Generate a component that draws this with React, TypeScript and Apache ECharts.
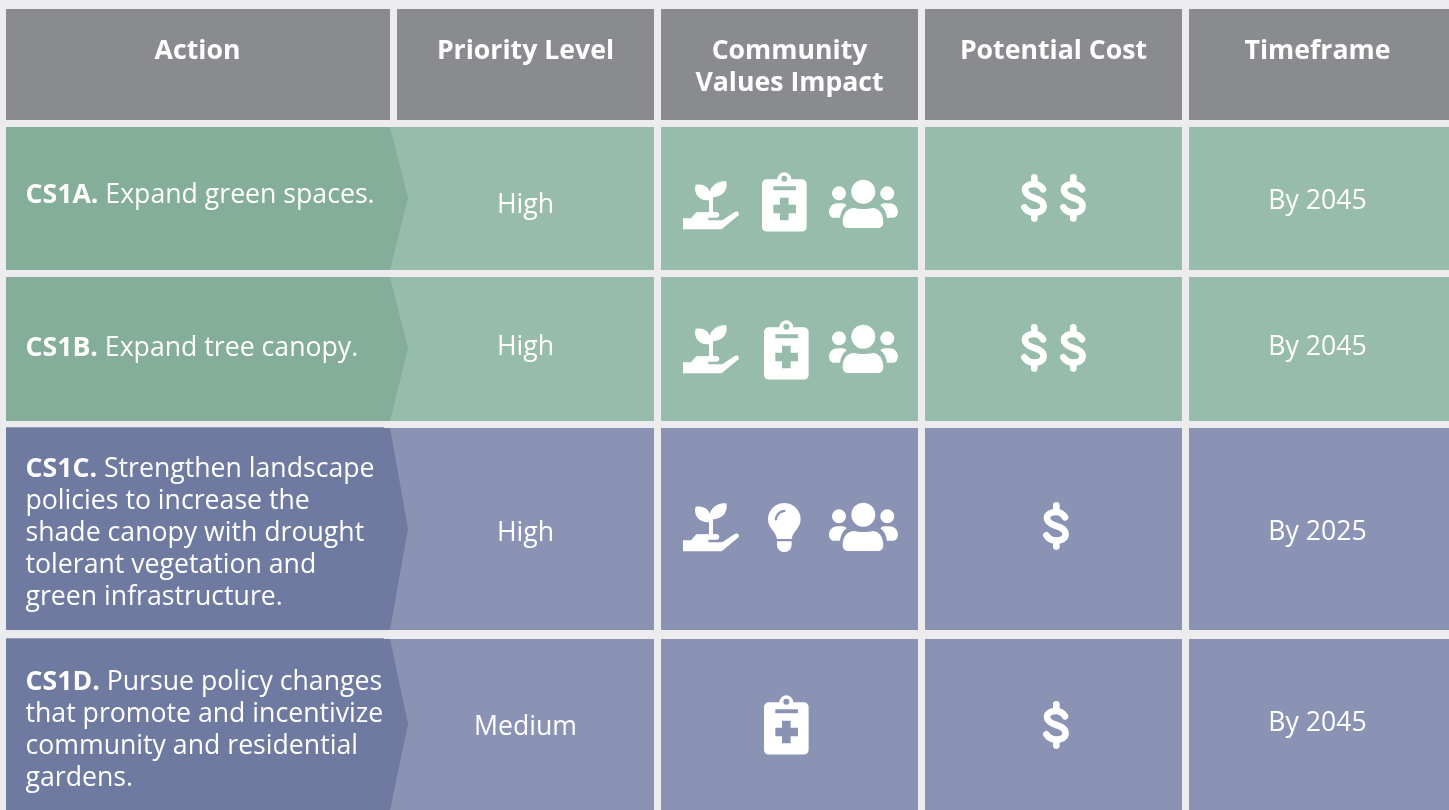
import React, { useEffect, useRef } from "react";
import * as echarts from "echarts";

const headers = ["Action", "Priority Level", "Community\nValues Impact", "Potential Cost", "Timeframe"];
const codes = ["CS1A.", "CS1B.", "CS1C.", "CS1D."];
const actionLines = [
  ["Expand green spaces."],
  ["Expand tree canopy."],
  ["Strengthen landscape", "policies to increase the", "shade canopy with drought", "tolerant vegetation and", "green infrastructure."],
  ["Pursue policy changes", "that promote and incentivize", "community and residential", "gardens."],
];
const priorities = ["High", "High", "High", "Medium"];
const timeframes = ["By 2045", "By 2045", "By 2025", "By 2045"];
const impacts = [
  ["hand", "clip", "users"],
  ["hand", "clip", "users"],
  ["hand", "bulb", "users"],
  ["clip"],
];
const costs = [2, 2, 1, 1];

// layout
const BG = "#ececee";
const HEAD = "#8a8b8e";
const colX: [number, number][] = [[6, 390], [397, 654], [661, 918], [925, 1182], [1189, 1449]];
const headX = [197.5, 525.5, 789.5, 1053.5, 1317.5];
const rowY: [number, number][] = [[127, 270], [277, 421], [428, 630], [639, 810]];
const rowDark = ["#85ae9a", "#85ae9a", "#6e7aa0", "#6e7aa0"];
const rowLight = ["#98bcab", "#98bcab", "#8a93b3", "#8a93b3"];
const actionY = [192, 345, 466, 679];
const priorityY = [202, 344, 530, 724];
const timeY = [198, 344, 529, 720];
const headY = 48;
const iconTop: Record<string, number[]> = {
  hand: [181, 325, 503, 0],
  clip: [172, 320, 0, 695],
  users: [180, 325, 503, 0],
  bulb: [0, 0, 503, 0],
};
const iconX: Record<string, number[]> = {
  hand: [683, 683, 683, 683],
  clip: [762, 764, 764, 764],
  users: [829, 829, 829, 829],
  bulb: [768, 768, 768, 768],
};
const dollarY = [174, 324, 502, 701];
const FONT = '"Open Sans"';
const FS = 26.67;

const PATHS: Record<string, string> = {
  clip: "M0,36 A14,14 0 0 1 14,22 L46,22 A21,21 0 1 1 88,22 L120,22 A14,14 0 0 1 134,36 L134,165 A14,14 0 0 1 120,179 L14,179 A14,14 0 0 1 0,165 Z M58,20 A9,9 0 1 0 76,20 A9,9 0 1 0 58,20 Z M34,43 L34,55 L102,55 L102,43 Z M54,77 L54,98 L34,98 L34,124 L54,124 L54,145 L80,145 L80,124 L102,124 L102,98 L80,98 L80,77 Z",
  users: "M67,35 A36,36 0 1 1 139,35 A36,36 0 1 1 67,35 Z M9,40 A21,21 0 1 1 51,40 A21,21 0 1 1 9,40 Z M154,40 A21,21 0 1 1 196,40 A21,21 0 1 1 154,40 Z M41,128 C41,100 55,84 76,84 C90,88 115,88 130,84 C150,84 163,100 163,128 A16,16 0 0 1 147,144 L57,144 A16,16 0 0 1 41,128 Z M0,95 C0,80 12,70 26,70 L40,70 C45,70 50,73 53,76 C42,84 35,96 33,113 L15,113 C6,113 0,105 0,95 Z M207,95 C207,105 201,113 192,113 L174,113 C172,96 165,84 154,76 C157,73 162,70 167,70 L181,70 C195,70 207,80 207,95 Z",
  hand: "M38,11 C72,6 88,30 80,57 C50,62 30,38 38,11 Z M130,1 C136,28 118,48 90,49 L90,93 L78,93 L78,50 C76,20 100,-2 130,1 Z M0,112 L24,112 L40,94 L100,93 C106,93 109,97 109,102 C109,107 106,110 100,110 L76,110 L76,118 L118,118 L155,93 C160,90 165,91 167,95 C169,99 168,102 165,104 L116,145 L0,145 Z",
  bulb: "M49,0 C76,0 98,22 98,49 C98,75 75,85 71,108 L27,108 C23,85 0,75 0,49 C0,22 22,0 49,0 Z M52,20 C34,20 20,34 20,52 L27,52 C27,38 38,27 52,27 Z M27,115 L71,115 L71,125 C71,138 61,147 49,147 C37,147 27,138 27,125 Z",
};
const DOLLAR = "M66,46 C60,36 50,30 40,30 C24,30 12,36 12,48 C12,62 28,68 40,72 C54,76 68,82 68,96 C68,110 54,116 40,116 C28,116 16,110 10,100 M40,10 L40,30 M40,116 L40,134";
Object.keys(PATHS).forEach((k) => echarts.graphic.registerShape(k, echarts.graphic.extendPath(PATHS[k], {})));
echarts.graphic.registerShape("dollar", echarts.graphic.extendPath(DOLLAR, {}));

function txt(x: number, y: number, text: string, weight: number) {
  return {
    type: "text",
    x,
    y,
    style: { text, fill: "#fff", font: `${weight} ${FS}px ${FONT}`, align: "center", verticalAlign: "middle" },
  };
}

function buildGraphic() {
  const els: any[] = [];
  els.push({ type: "rect", shape: { x: 0, y: 0, width: 1449, height: 810 }, style: { fill: BG } });
  colX.forEach(([a, b], i) => {
    els.push({ type: "rect", shape: { x: a, y: 9, width: b - a, height: 111 }, style: { fill: HEAD } });
    headers[i].split("\n").forEach((l, j) => els.push(txt(headX[i], headY + j * 32, l, 700)));
  });
  rowY.forEach(([t, b], r) => {
    const mid = (t + b) / 2 - 0.5;
    els.push({ type: "rect", shape: { x: 6, y: t, width: 648, height: b - t }, style: { fill: rowLight[r] } });
    els.push({
      type: "polygon",
      shape: { points: [[6, t], [390, t], [408, mid], [390, b], [6, b]] },
      style: { fill: rowDark[r] },
    });
    if (r >= 2) {
      els.push({ type: "rect", shape: { x: 6, y: t - 1, width: 378, height: 1 }, style: { fill: rowDark[r], opacity: 0.7 } });
    }
    colX.slice(2).forEach(([a, e]) => {
      els.push({ type: "rect", shape: { x: a, y: t, width: e - a, height: b - t }, style: { fill: rowLight[r] } });
    });
    const body = actionLines[r]
      .map((l, j) => (j === 0 ? `{b|${codes[r]}}{n| ${l}}` : `{n|${l}}`))
      .join("\n");
    els.push({
      type: "text",
      x: 25.5,
      y: actionY[r] - 16,
      style: {
        text: body,
        fill: "#fff",
        align: "left",
        verticalAlign: "top",
        rich: {
          b: { fill: "#fff", fontFamily: FONT, fontSize: FS, fontWeight: 700, lineHeight: 32 },
          n: { fill: "#fff", fontFamily: FONT, fontSize: FS, fontWeight: 400, lineHeight: 32 },
        },
      },
    });
    els.push(txt(525.5, priorityY[r], priorities[r], 400));
    els.push(txt(1317.5, timeY[r], timeframes[r], 400));
    impacts[r].forEach((k) => {
      els.push({
        type: k,
        x: iconX[k][r],
        y: iconTop[k][r],
        scaleX: 1 / 3,
        scaleY: 1 / 3,
        style: { fill: "#fff" },
      });
    });
    const dx = costs[r] === 2 ? [1021, 1060] : [1043];
    dx.forEach((x) => {
      els.push({
        type: "dollar",
        x,
        y: dollarY[r],
        scaleX: 1 / 3,
        scaleY: 1 / 3,
        style: { fill: "none", stroke: "#fff", lineWidth: 20, lineCap: "round" },
      });
    });
  });
  return els;
}

export default function App() {
  const ref = useRef<HTMLDivElement>(null);
  useEffect(() => {
    const chart = echarts.init(ref.current!, null, { renderer: "svg" });
    chart.setOption({ animation: false, graphic: { elements: buildGraphic() } });
    return () => chart.dispose();
  }, []);
  return <div ref={ref} style={{ position: "fixed", left: 0, top: 0, width: 1449, height: 810 }} />;
}
